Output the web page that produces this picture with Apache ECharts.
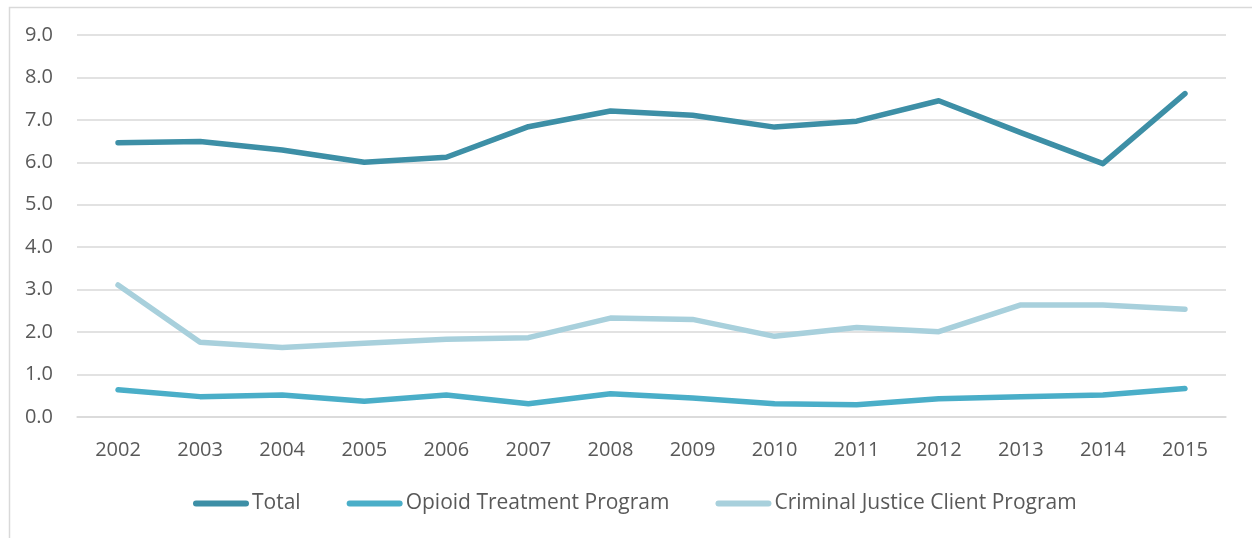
<!DOCTYPE html>
<html>
<head>
<meta charset="utf-8">
<script src="https://cdn.jsdelivr.net/npm/echarts@6/dist/echarts.min.js"></script>
<style>
  html, body { margin: 0; padding: 0; background: #ffffff; }
  #chart { width: 1252px; height: 538px; }
</style>
</head>
<body>
<div id="chart"></div>
<script>
// Rates by year for each program
const years = ['2002', '2003', '2004', '2005', '2006', '2007', '2008', '2009', '2010', '2011', '2012', '2013', '2014', '2015'];
const total = [6.46, 6.49, 6.29, 6.00, 6.12, 6.84, 7.21, 7.11, 6.83, 6.97, 7.45, 6.70, 5.97, 7.62];
const opioidTreatment = [0.64, 0.48, 0.52, 0.37, 0.52, 0.31, 0.55, 0.45, 0.31, 0.29, 0.43, 0.48, 0.52, 0.67];
const criminalJustice = [3.11, 1.76, 1.64, 1.74, 1.83, 1.87, 2.33, 2.30, 1.90, 2.11, 2.01, 2.64, 2.64, 2.54];
const seriesNames = ['Total', 'Opioid Treatment Program', 'Criminal Justice Client Program'];

const colors = ['#3d8fa6', '#4aaec8', '#a8d0dc'];
const textColor = '#595959';
const fontFamily = '"Open Sans", "Noto Sans", sans-serif';
const legendIcon = 'path://M3,0 L53,0 A3,3 0 0 1 53,6 L3,6 A3,3 0 0 1 3,0 Z';

const chart = echarts.init(document.getElementById('chart'), null, { renderer: 'canvas' });

function lineSeries(name, data, color) {
  return {
    name: name,
    type: 'line',
    data: data,
    symbol: 'none',
    smooth: false,
    lineStyle: { color: color, width: 5.5, cap: 'round', join: 'round' },
    itemStyle: { color: color },
    emphasis: { disabled: true }
  };
}

chart.setOption({
  animation: false,
  color: colors,
  graphic: [{
    type: 'rect',
    left: 7, top: 5,
    shape: { width: 1300, height: 600 },
    style: { fill: 'none', stroke: '#d9d9d9', lineWidth: 1.5 },
    silent: true,
    z: -1
  }],
  grid: { left: 77, right: 26, top: 35, bottom: 121 },
  xAxis: {
    type: 'category',
    data: years,
    boundaryGap: true,
    axisLine: { show: true, lineStyle: { color: '#d9d9d9', width: 1.5 } },
    axisTick: { show: false },
    axisLabel: { color: textColor, fontSize: 20, fontFamily: fontFamily, margin: 23 },
    splitLine: { show: false }
  },
  yAxis: {
    type: 'value',
    min: 0, max: 9, interval: 1,
    axisLine: { show: false },
    axisTick: { show: false },
    axisLabel: {
      color: textColor, fontSize: 20, fontFamily: fontFamily, margin: 24,
      formatter: v => v.toFixed(1)
    },
    splitLine: { lineStyle: { color: '#d9d9d9', width: 1.5 } }
  },
  legend: {
    data: seriesNames.map((n, i) => ({ name: n, icon: legendIcon, itemStyle: { color: colors[i] } })),
    left: 193, top: 493, padding: 0,
    itemWidth: 56, itemHeight: 6, itemGap: 46,
    textStyle: { color: textColor, fontSize: 21, fontFamily: fontFamily, padding: [0, 0, 0, -2] }
  },
  series: [
    lineSeries(seriesNames[0], total, colors[0]),
    lineSeries(seriesNames[1], opioidTreatment, colors[1]),
    lineSeries(seriesNames[2], criminalJustice, colors[2])
  ]
});
</script>
</body>
</html>
